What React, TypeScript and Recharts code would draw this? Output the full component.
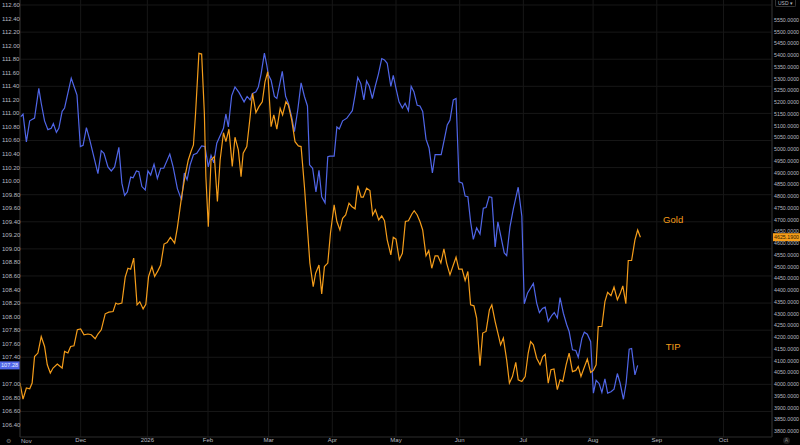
import {
  CartesianGrid,
  ComposedChart,
  Line,
  ReferenceDot,
  ReferenceLine,
  XAxis,
  YAxis,
} from "recharts"

// session index (trading days from the left edge) -> month labels
const monthTicks = [20, 42, 62, 82, 103, 124, 145, 166, 189, 210, 232]
const monthLabels = ["Dec", "2026", "Feb", "Mar", "Apr", "May", "Jun", "Jul", "Aug", "Sep", "Oct"]

const tipTicks = [
  106.4, 106.6, 106.8, 107.0, 107.2, 107.4, 107.6, 107.8, 108.0, 108.2, 108.4,
  108.6, 108.8, 109.0, 109.2, 109.4, 109.6, 109.8, 110.0, 110.2, 110.4, 110.6,
  110.8, 111.0, 111.2, 111.4, 111.6, 111.8, 112.0, 112.2, 112.4, 112.6,
]
const tipGrid = [106.6, 107.0, 107.4, 107.8, 108.2, 108.6, 109.0, 109.4, 109.8, 110.2, 110.6, 111.0, 111.4, 111.8, 112.2, 112.6]

const goldTicks = [
  3800, 3850, 3900, 3950, 4000, 4050, 4100, 4150, 4200, 4250, 4300, 4350,
  4400, 4450, 4500, 4550, 4600, 4650, 4700, 4750, 4800, 4850, 4900, 4950,
  5000, 5050, 5100, 5150, 5200, 5250, 5300, 5350, 5400, 5450, 5500, 5550,
]

const tipSession = [
  0.2, 1.0, 2.1, 3.2, 4.8, 6.2, 7.0, 8.1, 9.2, 10.3, 11.0, 12.0, 12.8, 13.9, 14.7, 16.9, 17.8, 18.8, 19.9, 20.8,
  21.9, 23.0, 25.7, 26.8, 27.7, 29.0, 30.1, 31.2, 32.6, 33.6, 34.5, 35.4, 36.5, 37.3, 38.4, 39.2, 40.2, 41.3, 42.2, 43.1,
  44.2, 45.3, 46.4, 47.4, 49.4, 50.5, 51.9, 53.3, 54.2, 55.1, 56.1, 57.2, 58.3, 59.9, 61.0, 62.1, 63.0, 63.9, 64.9, 66.0,
  67.1, 67.9, 68.7, 69.8, 70.9, 72.2, 73.9, 74.9, 75.9, 76.6, 77.8, 78.6, 79.5, 80.6, 81.4, 81.9, 82.8, 83.9, 84.7, 85.5,
  86.5, 87.6, 88.5, 89.6, 90.5, 91.6, 92.7, 93.8, 94.8, 95.5, 96.5, 97.6, 98.6, 99.5, 100.6, 101.5, 102.2, 103.6, 104.5, 105.3,
  106.4, 107.8, 108.6, 109.6, 110.5, 111.4, 112.4, 113.4, 114.3, 115.2, 116.2, 117.1, 118.2, 119.3, 120.2, 121.1, 122.3, 123.1, 124.0, 125.0,
  126.1, 127.0, 128.1, 129.0, 129.9, 131.0, 131.9, 132.8, 133.9, 134.9, 136.0, 136.9, 138.9, 139.9, 140.9, 141.8, 142.9, 143.8, 144.8, 145.9,
  146.8, 147.7, 148.6, 149.5, 150.6, 151.7, 152.8, 153.7, 154.7, 155.6, 156.7, 157.6, 158.6, 159.7, 160.5, 161.6, 162.7, 164.3, 165.5, 166.3,
  167.4, 169.3, 170.4, 171.3, 172.3, 173.2, 174.2, 175.4, 176.2, 177.2, 178.1, 179.2, 180.3, 181.1, 182.2, 183.3, 184.1, 185.3, 186.1, 187.1,
  188.2, 189.1, 190.0, 191.0, 191.9, 192.9, 193.8, 194.9, 195.9, 197.0, 197.9, 199.0, 199.9, 200.9, 201.7, 202.8, 203.7,
]
const tipClose = [
  110.95, 110.99, 110.58, 110.89, 110.93, 111.37, 111.15, 110.89, 110.76, 110.78, 110.85, 110.72, 110.78, 111.03, 111.08, 111.52, 111.40, 111.27, 110.51, 110.53,
  110.79, 110.61, 110.11, 110.45, 110.41, 110.21, 110.15, 110.21, 110.50, 109.97, 109.79, 109.84, 110.06, 110.05, 110.15, 110.14, 109.92, 109.87, 110.15, 110.09,
  110.25, 110.04, 110.19, 110.19, 110.40, 110.21, 109.89, 109.72, 110.12, 110.02, 110.24, 110.39, 110.41, 110.52, 110.51, 110.21, 110.38, 110.27, 110.56, 110.67,
  110.78, 110.99, 110.80, 111.26, 111.39, 111.31, 111.17, 111.25, 111.20, 111.29, 111.32, 111.39, 111.58, 111.89, 111.71, 111.57, 111.49, 111.25, 111.22, 111.40,
  111.62, 111.25, 111.15, 110.95, 110.73, 111.05, 111.45, 111.25, 111.11, 110.24, 110.19, 109.84, 110.16, 109.77, 109.68, 110.36, 110.37, 110.37, 110.80, 110.77,
  110.89, 110.93, 110.98, 111.04, 111.27, 111.53, 111.44, 111.20, 111.48, 111.40, 111.22, 111.39, 111.58, 111.81, 111.79, 111.74, 111.40, 111.56, 111.37, 111.17,
  111.08, 111.15, 111.04, 111.40, 111.32, 111.12, 111.11, 111.03, 110.62, 110.49, 110.12, 110.39, 110.39, 110.61, 110.83, 110.90, 111.20, 111.22, 109.99, 109.97,
  109.78, 109.77, 109.40, 109.14, 109.31, 109.22, 109.60, 109.61, 109.77, 109.76, 109.03, 109.40, 109.18, 108.94, 108.90, 109.33, 109.59, 109.91, 109.48, 108.19,
  108.35, 108.49, 108.20, 108.06, 108.12, 108.14, 107.93, 108.02, 108.06, 107.98, 108.28, 108.05, 107.88, 107.78, 107.51, 107.50, 107.40, 107.68, 107.77, 107.74,
  107.63, 106.87, 107.06, 107.01, 106.88, 107.08, 106.87, 106.89, 106.93, 107.16, 107.02, 106.78, 107.02, 107.52, 107.53, 107.14, 107.28,
]

const goldSession = [
  0.0, 1.0, 2.1, 3.2, 4.0, 4.8, 5.9, 7.0, 8.1, 9.0, 10.0, 10.9, 12.3, 13.9, 14.7, 15.8, 16.7, 17.8, 18.9, 20.0,
  21.1, 22.4, 23.5, 24.8, 25.7, 26.8, 28.1, 29.3, 30.7, 31.6, 32.3, 33.6, 34.7, 35.6, 36.5, 37.5, 38.6, 39.5, 40.6, 41.5,
  42.4, 43.5, 44.4, 45.5, 46.4, 47.5, 48.5, 49.6, 51.0, 51.9, 53.3, 54.4, 55.5, 56.4, 57.2, 57.9, 59.0, 59.9, 60.8, 61.3,
  62.1, 63.0, 64.1, 65.1, 66.0, 67.1, 67.9, 68.9, 70.0, 70.9, 72.0, 72.9, 73.6, 74.8, 75.9, 76.7, 77.8, 78.8, 79.9, 80.8,
  81.7, 82.8, 83.7, 84.7, 85.8, 86.6, 87.7, 88.5, 89.6, 90.7, 91.8, 92.7, 93.8, 94.9, 95.6, 96.7, 97.5, 98.6, 99.5, 100.4,
  101.5, 102.4, 103.6, 104.5, 105.5, 106.4, 107.4, 108.5, 109.4, 110.5, 111.4, 112.5, 113.2, 114.3, 115.4, 116.3, 117.2, 118.3, 119.3, 120.2,
  121.1, 122.3, 123.1, 124.0, 125.1, 126.1, 127.1, 128.1, 129.2, 130.0, 131.0, 131.9, 132.8, 133.9, 134.8, 135.8, 136.9, 137.8, 138.8, 139.8,
  140.7, 141.8, 142.9, 143.8, 144.7, 145.8, 146.8, 147.7, 148.6, 149.7, 150.6, 151.7, 152.6, 153.7, 154.8, 155.6, 156.7, 157.6, 158.5, 159.4,
  160.5, 161.4, 162.4, 163.5, 164.3, 165.5, 166.6, 167.6, 168.4, 169.3, 170.4, 171.5, 172.4, 173.2, 174.2, 175.1, 176.1, 177.2, 178.1, 179.0,
  180.1, 181.1, 182.2, 183.3, 184.1, 185.0, 186.0, 187.1, 188.2, 189.1, 190.0, 190.7, 191.9, 192.9, 193.8, 194.9, 195.9, 197.0, 197.9, 198.8,
  199.8, 200.6, 201.7, 202.8, 203.7, 204.6,
]
const goldClose = [
  4004, 3936, 3983, 3980, 4004, 4117, 4132, 4202, 4160, 4082, 4047, 4068, 4085, 4068, 4139, 4132, 4160, 4163, 4231, 4235,
  4210, 4213, 4210, 4193, 4213, 4231, 4299, 4306, 4309, 4345, 4340, 4345, 4455, 4493, 4489, 4536, 4337, 4350, 4320, 4340,
  4458, 4500, 4458, 4483, 4507, 4596, 4602, 4625, 4600, 4666, 4798, 4883, 4954, 4990, 5018, 5153, 5408, 5405, 5153, 4883,
  4670, 4954, 4968, 4777, 4954, 5070, 5032, 5085, 4926, 5051, 4997, 4883, 4983, 5011, 5139, 5238, 5156, 5181, 5202, 5287,
  5330, 5096, 5146, 5085, 5174, 5146, 5202, 5188, 5125, 5032, 5014, 5011, 4841, 4642, 4515, 4415, 4472, 4507, 4384, 4500,
  4515, 4644, 4763, 4692, 4656, 4706, 4720, 4770, 4756, 4746, 4845, 4796, 4796, 4834, 4824, 4720, 4742, 4699, 4716, 4696,
  4614, 4550, 4625, 4617, 4529, 4557, 4692, 4695, 4723, 4738, 4720, 4692, 4656, 4546, 4568, 4493, 4546, 4546, 4515, 4576,
  4515, 4465, 4507, 4540, 4489, 4489, 4441, 4479, 4337, 4333, 4281, 4078, 4217, 4224, 4316, 4337, 4266, 4217, 4167, 4196,
  4103, 4004, 4032, 4092, 4018, 4011, 4032, 4132, 4181, 4167, 4110, 4082, 4117, 4127, 4004, 4061, 4064, 3976, 4018, 4011,
  4082, 4132, 4053, 4058, 4075, 4032, 4068, 4106, 4049, 4058, 4082, 4245, 4245, 4351, 4390, 4376, 4413, 4359, 4384, 4418,
  4342, 4526, 4526, 4614, 4656, 4625.19,
]

const tipLast = 107.28
const goldLast = 4625.19

const tipData = tipSession.map((s, i) => ({ s, tip: tipClose[i] }))
const goldData = goldSession.map((s, i) => ({ s, gold: goldClose[i] }))

const BLUE = "#5066e8"
const ORANGE = "#f59d1a"
const AXIS_TEXT = "#b8bac0"
const FONT = "'Liberation Sans', Arial, sans-serif"

function LeftTick({ x, y, payload }: any) {
  if (Math.abs(payload.value - tipLast) < 0.1) return null
  return (
    <text x={x - 18} y={y} dy={2} fontSize={6} fill={AXIS_TEXT} fontFamily={FONT}>
      {Number(payload.value).toFixed(2)}
    </text>
  )
}

function RightTick({ x, y, payload }: any) {
  return (
    <text x={x} y={y} dy={2} fontSize={5.3} fill={AXIS_TEXT} fontFamily={FONT}>
      {Number(payload.value).toFixed(4)}
    </text>
  )
}

function BottomTick({ x, y, payload, index }: any) {
  return (
    <text x={x} y={y} dy={5} fontSize={6} fill={AXIS_TEXT} fontFamily={FONT} textAnchor="middle">
      {monthLabels[index] ?? payload.value}
    </text>
  )
}

function LeftBadge({ viewBox }: any) {
  const { x, y } = viewBox
  return (
    <g>
      <rect x={x - 20} y={y - 4} width={20} height={8} fill={BLUE} />
      <text x={x - 19} y={y} dy={2} fontSize={5.6} fill="#e8ebff" fontFamily={FONT}>
        {tipLast.toFixed(2)}
      </text>
    </g>
  )
}

function RightBadge({ viewBox }: any) {
  const { x, y, width } = viewBox
  return (
    <g>
      <rect x={x + width + 1} y={y - 4} width={27} height={8} fill={ORANGE} />
      <text x={x + width + 2} y={y} dy={2} fontSize={5.3} fill="#2a1a00" fontFamily={FONT}>
        {goldLast.toFixed(4)}
      </text>
    </g>
  )
}

export default function App() {
  return (
    <div style={{ position: "relative", width: 800, height: 445, background: "#000", overflow: "hidden" }}>
      <style>{"body{margin:0;background:#000}"}</style>
      <ComposedChart width={800} height={445} margin={{ top: 0, right: 0, bottom: 0, left: 0 }}>
        <CartesianGrid
          yAxisId="tip"
          stroke="#171717"
          horizontalValues={tipGrid}
        />
        <XAxis
          dataKey="s"
          type="number"
          domain={[0, 248]}
          ticks={monthTicks}
          interval={0}
          height={8}
          tickSize={0}
          tickMargin={0}
          tick={<BottomTick />}
          axisLine={{ stroke: "#2c2c2c" }}
          tickLine={false}
          allowDataOverflow
        />
        <YAxis
          yAxisId="tip"
          orientation="left"
          width={20}
          domain={[106.223, 112.674]}
          ticks={tipTicks}
          interval={0}
          tickSize={0}
          tickMargin={0}
          tick={<LeftTick />}
          axisLine={{ stroke: "#2c2c2c" }}
          tickLine={false}
          allowDataOverflow
        />
        <YAxis
          yAxisId="gold"
          orientation="right"
          width={28}
          domain={[3774.5, 5635.2]}
          ticks={goldTicks}
          interval={0}
          tickSize={0}
          tickMargin={2}
          tick={<RightTick />}
          axisLine={{ stroke: "#2c2c2c" }}
          tickLine={false}
          allowDataOverflow
        />
        <Line
          yAxisId="tip"
          data={tipData}
          dataKey="tip"
          type="linear"
          stroke={BLUE}
          strokeWidth={1.2}
          dot={false}
          activeDot={false}
          isAnimationActive={false}
        />
        <Line
          yAxisId="gold"
          data={goldData}
          dataKey="gold"
          type="linear"
          stroke={ORANGE}
          strokeWidth={1.2}
          dot={false}
          activeDot={false}
          isAnimationActive={false}
        />
        <ReferenceLine yAxisId="tip" y={tipLast} strokeOpacity={0} label={(p: any) => <LeftBadge {...p} />} />
        <ReferenceLine yAxisId="gold" y={goldLast} strokeOpacity={0} label={(p: any) => <RightBadge {...p} />} />
        <ReferenceDot
          yAxisId="gold"
          x={215.4}
          y={4699}
          r={0}
          fill="none"
          stroke="none"
          label={{ value: "Gold", fill: ORANGE, fontSize: 9.5, fontFamily: FONT, position: "center" }}
        />
        <ReferenceDot
          yAxisId="tip"
          x={215.4}
          y={107.55}
          r={0}
          fill="none"
          stroke="none"
          label={{ value: "TIP", fill: ORANGE, fontSize: 9.5, fontFamily: FONT, position: "center" }}
        />
      </ComposedChart>
      <div
        style={{
          position: "absolute",
          left: 21,
          top: 438,
          fontSize: 6,
          lineHeight: "7px",
          color: AXIS_TEXT,
          fontFamily: FONT,
          whiteSpace: "nowrap",
        }}
      >
        Nov
      </div>
      <div
        style={{
          position: "absolute",
          left: 775,
          top: 0,
          padding: "0 2px",
          height: 6,
          lineHeight: "6px",
          fontSize: 5,
          color: AXIS_TEXT,
          fontFamily: FONT,
          border: "1px solid #333",
          borderTop: "none",
          borderRadius: "0 0 2px 2px",
        }}
      >
        USD ▾
      </div>
      <div style={{ position: "absolute", left: 6, top: 437, fontSize: 6, color: "#777", fontFamily: FONT }}>⚙</div>
      <div
        style={{
          position: "absolute",
          left: 783,
          top: 437,
          width: 7,
          height: 7,
          borderRadius: "50%",
          background: "#1e1e1e",
          color: "#888",
          fontSize: 5,
          lineHeight: "7px",
          textAlign: "center",
          fontFamily: FONT,
        }}
      >
        A
      </div>
    </div>
  )
}
